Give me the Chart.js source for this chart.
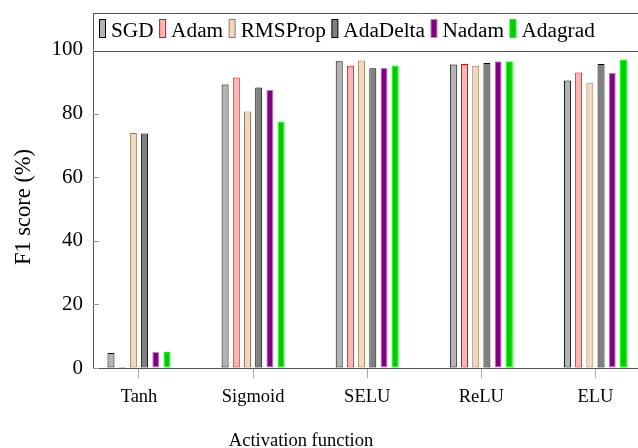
<!DOCTYPE html>
<html>
<head>
<meta charset="utf-8">
<script src="https://cdn.jsdelivr.net/npm/chart.js@4"></script>
<style>
  html, body { margin: 0; padding: 0; background: #fff; overflow: hidden; }
  #chart { display: block; }
</style>
</head>
<body>
<canvas id="chart" width="638" height="448"></canvas>
<script>
// data
const activations = ["Tanh", "Sigmoid", "SELU", "ReLU", "ELU"];
const yTicks = [0, 20, 40, 60, 80, 100];

const sgd      = [4.7, 89.1, 96.4, 95.4, 90.4];
const adam     = [0.3, 91.3, 95.0, 95.6, 92.9];
const rmsprop  = [73.9, 80.6, 96.7, 95.0, 89.5];
const adadelta = [73.7, 88.2, 94.2, 95.9, 95.6];
const nadam    = [5.0, 87.5, 94.4, 96.4, 92.8];
const adagrad  = [5.0, 77.5, 95.1, 96.4, 97.0];

const SERIF = "'Liberation Serif', 'DejaVu Serif', serif";

const series = [
    { label: "SGD",      values: sgd,      fill: "#b3b3b3", stroke: "#000000" },
    { label: "Adam",     values: adam,     fill: "#ffb3b3", stroke: "#ff0000" },
    { label: "RMSProp",  values: rmsprop,  fill: "#ecd9c6", stroke: "#a07850" },
    { label: "AdaDelta", values: adadelta, fill: "#808080", stroke: "#000000" },
    { label: "Nadam",    values: nadam,    fill: "#800080", stroke: "#bf80bf" },
    { label: "Adagrad",  values: adagrad,  fill: "#00cc00", stroke: "#00ff00" }
];

const datasets = series.map(s => ({
    label: s.label,
    data: s.values.map((v, i) => ({ x: i, y: v })),
    backgroundColor: s.fill,
    borderColor: s.stroke,
    borderWidth: 1,
    borderSkipped: false,
    categoryPercentage: 0.589,
    barPercentage: 0.625
}));

// no extra label padding around the plot box
const noPadding = scale => {
    scale.paddingTop = 0;
    scale.paddingBottom = 0;
    scale.paddingLeft = 0;
    scale.paddingRight = 0;
};

// ===============================
// EXTRA DRAWING: legend box, inward y ticks, axis titles
// ===============================
const decorations = {
    id: "decorations",
    afterDraw(chart) {
        const ctx = chart.ctx;
        const area = chart.chartArea;
        const yScale = chart.scales.y;

        ctx.save();

        // inward tick marks on the y axis
        ctx.strokeStyle = "#999999";
        ctx.lineWidth = 1;
        yTicks.forEach(t => {
            const py = Math.round(yScale.getPixelForValue(t)) + 0.5;
            ctx.beginPath();
            ctx.moveTo(area.left, py);
            ctx.lineTo(area.left + 6, py);
            ctx.stroke();
        });

        // legend box at the top of the plot
        const top = Math.round(area.top), bottom = 51;
        ctx.fillStyle = "#ffffff";
        ctx.fillRect(area.left + 1, top + 1, area.right - area.left, bottom - top - 1);
        ctx.strokeStyle = "#555555";
        ctx.beginPath();
        ctx.moveTo(area.left, top + 0.5);
        ctx.lineTo(area.right, top + 0.5);
        ctx.moveTo(area.left, bottom + 0.5);
        ctx.lineTo(area.right, bottom + 0.5);
        ctx.stroke();

        ctx.font = "21.3px " + SERIF;
        ctx.textBaseline = "alphabetic";
        ctx.textAlign = "left";
        let x = area.left + 6.5;
        series.forEach(s => {
            ctx.fillStyle = s.fill;
            ctx.fillRect(x, 19.5, 6, 18);
            ctx.strokeStyle = s.stroke;
            ctx.strokeRect(x, 19.5, 6, 18);
            x += 11.5;
            ctx.fillStyle = "#000000";
            ctx.fillText(s.label, x, 37);
            x += ctx.measureText(s.label).width + 6;
        });

        // axis titles
        ctx.font = "18.5px " + SERIF;
        ctx.fillStyle = "#000000";
        ctx.textAlign = "center";
        ctx.fillText("Activation function", 301, 446);

        ctx.font = "22.5px " + SERIF;
        ctx.translate(30, 207);
        ctx.rotate(-Math.PI / 2);
        ctx.fillText("F1 score (%)", 0, 0);

        ctx.restore();
    }
};

new Chart(document.getElementById("chart"), {
    type: "bar",
    data: { datasets: datasets },
    options: {
        responsive: false,
        animation: false,
        devicePixelRatio: 1,
        layout: { padding: { top: 13, right: 0, left: 0, bottom: 0 } },
        plugins: {
            legend: { display: false },
            tooltip: { enabled: false }
        },
        scales: {
            x: {
                type: "linear",
                offset: false,
                min: -0.403,
                max: 4.373,
                afterBuildTicks: scale => {
                    scale.ticks = activations.map((c, i) => ({ value: i }));
                },
                afterFit: scale => {
                    scale.height = 80;
                    noPadding(scale);
                },
                ticks: {
                    autoSkip: false,
                    maxRotation: 0,
                    padding: 8,
                    color: "#000000",
                    font: { family: SERIF, size: 18.5 },
                    callback: v => activations[v] ?? ""
                },
                grid: {
                    offset: false,
                    drawOnChartArea: false,
                    drawTicks: true,
                    tickLength: 10,
                    color: "#aaaaaa"
                },
                border: { display: true, color: "#555555", width: 1 }
            },
            y: {
                min: 0,
                max: 111.6,
                afterBuildTicks: scale => {
                    scale.ticks = yTicks.map(v => ({ value: v }));
                },
                afterFit: scale => {
                    scale.width = 93;
                    noPadding(scale);
                },
                ticks: {
                    padding: 10,
                    color: "#000000",
                    font: { family: SERIF, size: 21 }
                },
                grid: { drawOnChartArea: false, drawTicks: false },
                border: { display: true, color: "#555555", width: 1 }
            }
        }
    },
    plugins: [decorations]
});
</script>
</body>
</html>
